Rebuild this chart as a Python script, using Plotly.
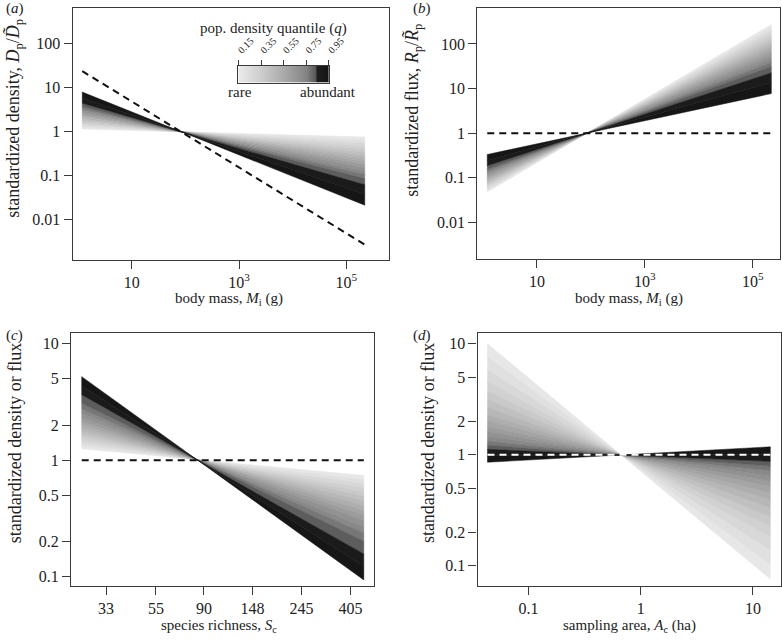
import numpy as np
import plotly.graph_objects as go
from plotly.colors import sample_colorscale

# ---------------- data ----------------
quantiles = [0.15, 0.20, 0.25, 0.30, 0.35, 0.40, 0.45, 0.50, 0.55,
             0.60, 0.65, 0.70, 0.75, 0.80, 0.85, 0.90, 0.95]

mass_range = [1.2, 2.2e5]          # body mass (g), fan ends in (a) and (b)
richness_range = [25.7, 464]       # species richness, fan ends in (c)
area_range = [0.043, 14.3]         # sampling area (ha), fan ends in (d)

# (a) standardized density at smallest / largest mass, per quantile
density_left = [1.16, 1.27, 1.38, 1.51, 1.64, 1.79, 1.95, 2.13, 2.33,
                2.54, 2.77, 3.05, 3.36, 3.77, 4.48, 5.87, 8.00]
density_right = [0.76, 0.647, 0.551, 0.469, 0.400, 0.340, 0.289, 0.247, 0.210,
                 0.179, 0.152, 0.127, 0.106, 0.086, 0.062, 0.038, 0.0213]
density_dashed = [24, 0.0027]      # -3/4 scaling reference line

# (b) standardized flux
flux_left = [0.048, 0.0525, 0.0573, 0.0624, 0.0681, 0.0743, 0.0811, 0.0884, 0.0964,
             0.105, 0.115, 0.126, 0.139, 0.156, 0.186, 0.244, 0.332]
flux_right = [274, 233, 199, 169, 144, 123, 104, 89, 75.8,
              64.5, 54.9, 45.9, 38.4, 31.0, 22.5, 13.6, 7.7]

# (c) species richness
richness_left = [1.25, 1.32, 1.40, 1.48, 1.57, 1.66, 1.77, 1.89, 2.02,
                 2.15, 2.31, 2.51, 2.74, 3.07, 3.64, 4.32, 5.20]
richness_right = [0.74, 0.681, 0.627, 0.577, 0.532, 0.490, 0.446, 0.407, 0.371,
                  0.338, 0.305, 0.269, 0.238, 0.202, 0.157, 0.123, 0.094]

# (d) sampling area
area_left = [10.0, 7.63, 5.83, 4.56, 3.74, 3.15, 2.65, 2.29, 2.03,
             1.79, 1.62, 1.47, 1.33, 1.22, 1.12, 0.98, 0.857]
area_right = [0.076, 0.103, 0.139, 0.183, 0.227, 0.276, 0.334, 0.394, 0.452,
              0.518, 0.578, 0.645, 0.720, 0.793, 0.873, 1.015, 1.18]

reference_one = [1, 1]

legend_ticks = [0.15, 0.35, 0.55, 0.75, 0.95]

# ---------------- style ----------------
W, H = 782, 640
FONT = "Liberation Serif"
grey_scale = [[0.0, "#ebebeb"], [0.25, "#cdcdcd"], [0.5, "#aaaaaa"],
              [0.75, "#848484"], [0.85, "#5a5a5a"], [0.87, "#1e1e1e"],
              [1.0, "#141414"]]
QMIN, QMAX = 0.15, 0.95


def qcolor(q):
    return sample_colorscale(grey_scale, [(q - QMIN) / (QMAX - QMIN)])[0]


def px(x):
    return x / W


def py(y):
    return 1 - y / H


fig = go.Figure()


def add_fan(xr, left, right, ax):
    xa, ya = ("x", "y") if ax == 1 else (f"x{ax}", f"y{ax}")
    for i in range(len(quantiles) - 1):
        c = qcolor(0.5 * (quantiles[i] + quantiles[i + 1]))
        fig.add_trace(go.Scatter(
            x=[xr[0], xr[1], xr[1], xr[0], xr[0]],
            y=[left[i], right[i], right[i + 1], left[i + 1], left[i]],
            mode="lines", fill="toself", fillcolor=c,
            line=dict(color=c, width=0.5),
            hoverinfo="skip", showlegend=False, xaxis=xa, yaxis=ya))


def add_dashed(xr, yv, ax, color="#111111"):
    xa, ya = ("x", "y") if ax == 1 else (f"x{ax}", f"y{ax}")
    fig.add_trace(go.Scatter(x=xr, y=yv, mode="lines",
                             line=dict(color=color, width=2, dash="7px,5px"),
                             hoverinfo="skip", showlegend=False, xaxis=xa, yaxis=ya))


add_fan(mass_range, density_left, density_right, 1)
add_dashed(mass_range, density_dashed, 1)
add_fan(mass_range, flux_left, flux_right, 2)
add_dashed(mass_range, reference_one, 2)
add_fan(richness_range, richness_left, richness_right, 3)
add_dashed(richness_range, reference_one, 3)
add_fan(area_range, area_left, area_right, 4)
add_dashed(area_range, reference_one, 4, color="#ffffff")

# legend colour bar
bar_q = np.linspace(QMIN, QMAX, 161)
fig.add_trace(go.Heatmap(x=bar_q, y=[0], z=[bar_q], colorscale=grey_scale,
                         zmin=QMIN, zmax=QMAX, showscale=False, hoverinfo="skip",
                         xaxis="x5", yaxis="y5"))

LINE = "#3a3a3a"
base = dict(showline=True, mirror=True, linecolor=LINE, linewidth=1.2,
            ticks="outside", ticklen=8, tickwidth=1.2, tickcolor=LINE,
            showgrid=False, zeroline=False,
            tickfont=dict(family=FONT, size=16, color="#222"))

mass_ticks = dict(tickvals=[10, 1000, 1e5], ticktext=["10", "10<sup>3</sup>", "10<sup>5</sup>"])
big_y = dict(tickvals=[0.01, 0.1, 1, 10, 100], ticktext=["0.01", "0.1", "1", "10", "100"])
small_y = dict(tickvals=[0.1, 0.2, 0.5, 1, 2, 5, 10],
               ticktext=["0.1", "0.2", "0.5", "1", "2", "5", "10"])

fig.update_layout(
    width=700, height=560, autosize=False, margin=dict(l=0, r=0, t=0, b=0),
    paper_bgcolor="white", plot_bgcolor="white", showlegend=False,
    font=dict(family=FONT, color="#222"),
    xaxis=dict(base, type="log", range=[-0.10, 5.80], domain=[px(70), px(388.3)],
               anchor="y", ticklabelstandoff=0, **mass_ticks),
    yaxis=dict(base, type="log", range=[-2.909, 2.81], domain=[py(260), py(8.3)],
               anchor="x", **big_y),
    xaxis2=dict(base, type="log", range=[-0.106, 5.503], domain=[px(476.7), px(781)],
                anchor="y2", ticklabelstandoff=0, **mass_ticks),
    yaxis2=dict(base, type="log", range=[-2.82, 2.80], domain=[py(259.3), py(8.3)],
                anchor="x2", **big_y),
    xaxis3=dict(base, type="log", range=[1.362, 2.711], domain=[px(68.3), px(372.7)],
                anchor="y3", ticklabelstandoff=0,
                tickvals=[33, 55, 90, 148, 245, 405],
                ticktext=["33", "55", "90", "148", "245", "405"]),
    yaxis3=dict(base, type="log", range=[-1.077, 1.086], domain=[py(586.7), py(334)],
                anchor="x3", **small_y),
    xaxis4=dict(base, type="log", range=[-1.455, 1.248], domain=[px(477), px(781.7)],
                anchor="y4", ticklabelstandoff=0,
                tickvals=[0.1, 1, 10], ticktext=["0.1", "1", "10"]),
    yaxis4=dict(base, type="log", range=[-1.18, 1.093], domain=[py(586.7), py(334)],
                anchor="x4", **small_y),
    xaxis5=dict(range=[QMIN, QMAX], domain=[px(236.7), px(327.3)], anchor="y5",
                side="top", showline=True, mirror=True, linecolor=LINE, linewidth=1,
                ticks="outside", ticklen=5, tickwidth=1, tickcolor=LINE,
                tickvals=legend_ticks, ticktext=[f"{t:.2f}" for t in legend_ticks],
                tickangle=-45, tickfont=dict(family=FONT, size=10, color="#222"),
                showgrid=False, zeroline=False),
    yaxis5=dict(range=[-0.5, 0.5], domain=[py(82.7), py(65.7)], anchor="x5",
                showline=True, mirror=True, linecolor=LINE, linewidth=1,
                showticklabels=False, ticks="", showgrid=False, zeroline=False),
)


def ann(text, x, y, size=15, angle=0):
    fig.add_annotation(text=text, x=px(x), y=py(y), xref="paper", yref="paper",
                       showarrow=False, textangle=angle, xanchor="center", yanchor="middle",
                       font=dict(family=FONT, size=size, color="#222"))


# axis titles
ann("body mass, <i>M</i><sub>i</sub> (g)", 227, 299)
ann("body mass, <i>M</i><sub>i</sub> (g)", 629, 299)
ann("species richness, <i>S</i><sub>c</sub>", 217, 627)
ann("sampling area, <i>A</i><sub>c</sub> (ha)", 630, 627)
ann("standardized density, <i>D</i><sub>p</sub>/<i>D\u0303</i><sub>p</sub>", 12, 118, size=18, angle=-90)
ann("standardized flux, <i>R</i><sub>p</sub>/<i>R\u0303</i><sub>p</sub>", 413, 110, size=18, angle=-90)
ann("standardized density or flux", 12, 444, size=18, angle=-90)
ann("standardized density or flux", 427, 444, size=18, angle=-90)

# panel letters
ann("(<i>a</i>)", 12, 9)
ann("(<i>b</i>)", 421, 9)
ann("(<i>c</i>)", 12, 336)
ann("(<i>d</i>)", 421, 336)

# legend texts
ann("pop. density quantile (<i>q</i>)", 272, 29)
ann("rare", 238, 92)
ann("abundant", 327, 92)

fig.write_html(
    "out.html",
    config={"responsive": False, "displayModeBar": False},
    post_script=(
        "document.documentElement.style.overflow='hidden';"
        "document.body.style.margin='0px';document.body.style.overflow='hidden';"
        "var gd=document.getElementById('{plot_id}');"
        "gd.style.width='798px';gd.style.height='640px';"
        "Plotly.relayout(gd, {width: 798, height: 640});"
    ),
)
